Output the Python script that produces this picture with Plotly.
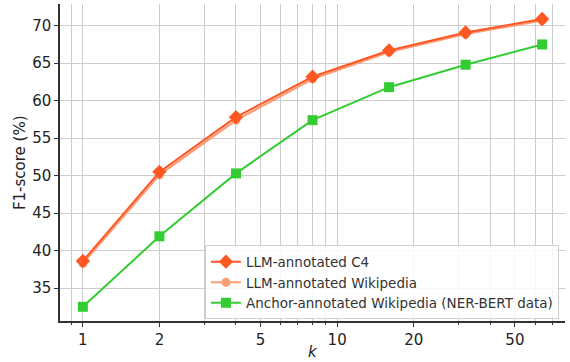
import plotly.graph_objects as go

k_values = [1, 2, 4, 8, 16, 32, 64]
llm_c4 = [38.6, 50.5, 57.8, 63.2, 66.7, 69.1, 70.9]
llm_wiki = [38.3, 50.1, 57.4, 62.9, 66.5, 68.9, 70.7]
anchor_wiki = [32.5, 41.9, 50.3, 57.4, 61.8, 64.8, 67.5]

x_tickvals = [1, 2, 5, 10, 20, 50]
x_ticktext = ["1", "2", "5", "10", "20", "50"]
x_minor = [0.9, 3, 4, 6, 7, 8, 9, 30, 40, 60, 70]
y_tickvals = [35, 40, 45, 50, 55, 60, 65, 70]

fig = go.Figure()
fig.add_trace(go.Scatter(
    x=k_values, y=llm_wiki, name="LLM-annotated Wikipedia", mode="lines+markers",
    line=dict(color="#ff9c78", width=2.2),
    marker=dict(symbol="circle", size=9, color="#ff9c78"), legendrank=2))
fig.add_trace(go.Scatter(
    x=k_values, y=llm_c4, name="LLM-annotated C4", mode="lines+markers",
    line=dict(color="#ff5722", width=2),
    marker=dict(symbol="diamond", size=11, color="#ff5722"), legendrank=1))
fig.add_trace(go.Scatter(
    x=k_values, y=anchor_wiki, name="Anchor-annotated Wikipedia (NER-BERT data)", mode="lines+markers",
    line=dict(color="#33cc33", width=2),
    marker=dict(symbol="square", size=10, color="#33cc33"), legendrank=3))

font = "DejaVu Sans, sans-serif"
fig.update_layout(
    width=570, height=362,
    margin=dict(l=60, r=5, t=4, b=41),
    plot_bgcolor="white", paper_bgcolor="white",
    font=dict(family=font, size=15, color="#222222"),
    showlegend=True,
    legend=dict(x=0.287, y=0.005, xanchor="left", yanchor="bottom",
                bgcolor="rgba(255,255,255,0.85)", bordercolor="#d0d0d0", borderwidth=1,
                font=dict(size=13.5, color="#333333"), tracegroupgap=0,
                itemwidth=30),
    xaxis=dict(type="log", range=[-0.09, 1.896], tickvals=x_tickvals, ticktext=x_ticktext,
               automargin=False,
               showgrid=True, gridcolor="#cccccc", gridwidth=1,
               minor=dict(tickvals=x_minor, showgrid=True, gridcolor="#cccccc", gridwidth=1,
                          ticks="outside", ticklen=2, tickcolor="#333333"),
               showline=True, linecolor="#333333", linewidth=1.5,
               ticks="outside", ticklen=4, tickcolor="#333333",
               zeroline=False),
    yaxis=dict(range=[30.6, 72.9], tickvals=y_tickvals,
               automargin=False,
               showgrid=True, gridcolor="#cccccc", gridwidth=1,
               showline=True, linecolor="#333333", linewidth=1.5,
               ticks="outside", ticklen=4, tickcolor="#333333",
               zeroline=False),
    annotations=[
        dict(text="<i>k</i>", xref="paper", yref="paper", x=0.5, y=-0.097, yanchor="middle",
             xanchor="center", showarrow=False, font=dict(size=15, color="#222222")),
        dict(text="F1-score (%)", xref="paper", yref="paper", x=-0.08, y=0.5,
             xanchor="center", yanchor="middle", textangle=-90, showarrow=False,
             font=dict(size=15, color="#222222")),
    ],
)

fig.write_html("out.html", config={"displayModeBar": False},
               post_script="document.body.style.margin='0';document.body.style.padding='0';")
